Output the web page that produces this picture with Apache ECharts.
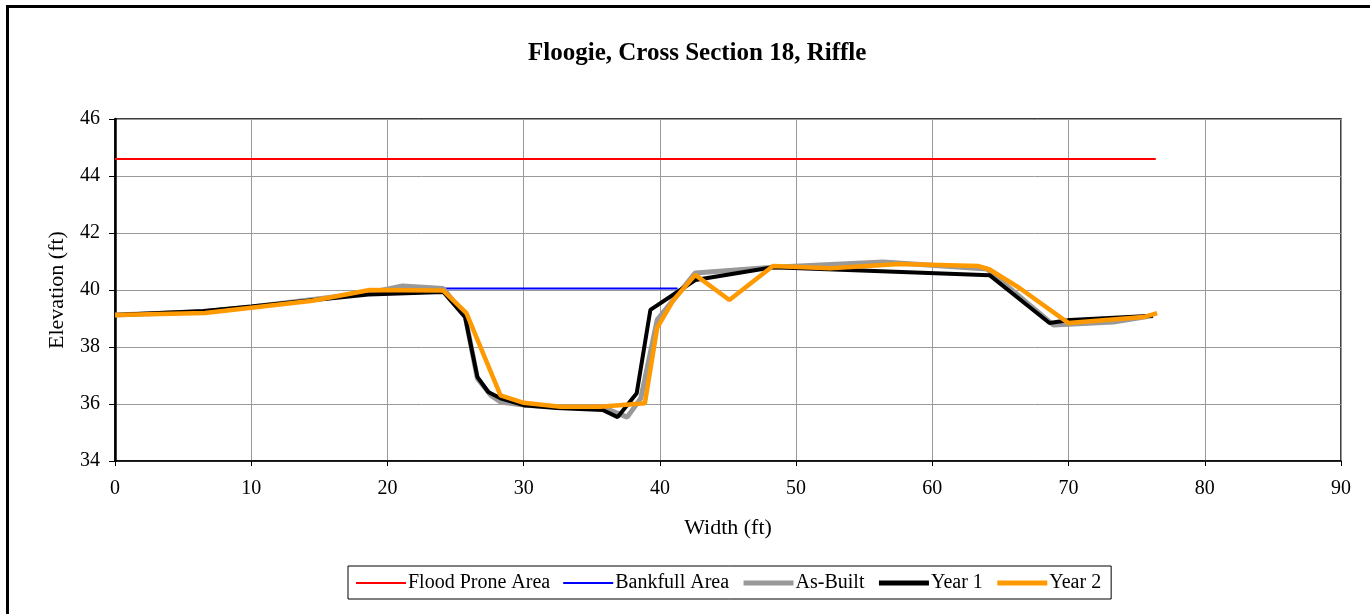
<!DOCTYPE html>
<html>
<head>
<meta charset="utf-8">
<script src="https://cdn.jsdelivr.net/npm/echarts@6/dist/echarts.min.js"></script>
<style>
  html, body { margin: 0; padding: 0; background: #fff; }
  #chart { width: 1370px; height: 614px; }
</style>
</head>
<body>
<div id="chart"></div>
<script>
// cross section survey
var floodX = [0, 76.4];
var floodY = [44.6, 44.6];
var bankX = [24.1, 41.3];
var bankY = [40.05, 40.05];

var asBuiltX = [0, 6.5, 10, 18.6, 21.1, 24.1, 25.7, 26.6, 27.6, 28.3, 30, 32.4, 35.8, 37.6, 38.6, 39.8, 42.6, 48.3, 56.4, 64, 68.9, 73.3, 76.2];
var asBuiltY = [39.12, 39.24, 39.4, 39.9, 40.14, 40.05, 39.1, 36.9, 36.3, 36.07, 35.96, 35.9, 35.88, 35.54, 36.2, 38.95, 40.6, 40.8, 40.98, 40.74, 38.77, 38.88, 39.1];

var year1X = [0, 6.5, 10, 18.6, 24.1, 25.7, 26.6, 27.4, 28.3, 30, 32.4, 35.8, 36.9, 38.3, 39.3, 42.6, 48.3, 64.2, 68.6, 70.1, 76.2];
var year1Y = [39.12, 39.26, 39.42, 39.84, 39.93, 39.05, 36.95, 36.42, 36.2, 35.96, 35.86, 35.79, 35.54, 36.38, 39.3, 40.35, 40.8, 40.52, 38.84, 38.95, 39.1];

var year2X = [0, 6.6, 10, 14.5, 18.7, 24.1, 25.8, 28.3, 30, 32.7, 35.6, 38.9, 39.8, 41, 42.6, 45.1, 48.3, 52.5, 57.6, 63.4, 64.2, 66.4, 70, 75.5, 76.5];
var year2Y = [39.12, 39.19, 39.38, 39.62, 40.0, 39.98, 39.19, 36.3, 36.04, 35.9, 35.9, 36.03, 38.67, 39.65, 40.53, 39.65, 40.84, 40.76, 40.91, 40.84, 40.72, 40.07, 38.84, 39.05, 39.19];

function pairs(xs, ys) {
  return xs.map(function (x, i) { return [x, ys[i]]; });
}

var font = '"Liberation Serif", "Times New Roman", serif';
var chart = echarts.init(document.getElementById('chart'));

function lineSeries(name, xs, ys, color, width, z) {
  return {
    name: name,
    type: 'line',
    data: pairs(xs, ys),
    symbol: 'none',
    smooth: false,
    z: z,
    itemStyle: { color: color },
    lineStyle: { color: color, width: width },
    emphasis: { disabled: true }
  };
}

function legendItem(name, width) {
  return { name: name, itemStyle: { opacity: 0 }, lineStyle: { width: width } };
}

var option = {
  animation: false,
  backgroundColor: '#fff',
  textStyle: { fontFamily: font },
  graphic: [
    {
      type: 'rect',
      shape: { x: 7.5, y: 6.5, width: 1380, height: 640 },
      style: { fill: 'none', stroke: '#000', lineWidth: 3 },
      silent: true
    }
  ],
  title: {
    text: 'Floogie, Cross Section 18, Riffle',
    left: 523,
    top: 36,
    textStyle: { fontFamily: font, fontSize: 25, fontWeight: 'bold', color: '#000' }
  },
  grid: {
    left: 115,
    right: 29,
    top: 119,
    bottom: 153,
    show: true,
    borderColor: '#000',
    borderWidth: 1.5,
    backgroundColor: '#fff'
  },
  legend: {
    left: 348,
    top: 566,
    padding: [7, 10, 6, 7],
    itemGap: 12,
    itemWidth: 50,
    itemHeight: 12,
    borderColor: '#000',
    borderWidth: 1,
    itemStyle: { opacity: 0 },
    textStyle: { fontFamily: font, fontSize: 20, color: '#000', padding: [0, 0, 0, -3] },
    data: [
      legendItem('Flood Prone Area', 2),
      legendItem('Bankfull Area', 2),
      legendItem('As-Built', 5),
      legendItem('Year 1', 5),
      legendItem('Year 2', 5)
    ]
  },
  xAxis: {
    type: 'value',
    min: 0,
    max: 90,
    interval: 10,
    name: 'Width (ft)',
    nameLocation: 'middle',
    nameGap: 56,
    nameTextStyle: { fontFamily: font, fontSize: 22, color: '#000' },
    axisLine: { lineStyle: { color: '#000', width: 1.5 } },
    axisTick: { show: true, length: 5, lineStyle: { color: '#000' } },
    axisLabel: { margin: 18, fontFamily: font, fontSize: 20, color: '#000' },
    splitLine: { show: true, lineStyle: { color: '#999', width: 1 } }
  },
  yAxis: {
    type: 'value',
    min: 34,
    max: 46,
    interval: 2,
    name: 'Elevation (ft)',
    nameLocation: 'middle',
    nameGap: 47,
    nameTextStyle: { fontFamily: font, fontSize: 22, color: '#000' },
    axisLine: { show: true, lineStyle: { color: '#000', width: 2.5 } },
    axisTick: { show: true, length: 6, lineStyle: { color: '#000' } },
    axisLabel: { margin: 15, fontFamily: font, fontSize: 20, color: '#000' },
    splitLine: { show: true, lineStyle: { color: '#999', width: 1 } }
  },
  series: [
    lineSeries('Flood Prone Area', floodX, floodY, '#ff0000', 2, 2),
    lineSeries('Bankfull Area', bankX, bankY, '#0000ff', 2, 2),
    lineSeries('As-Built', asBuiltX, asBuiltY, '#999999', 5, 3),
    lineSeries('Year 1', year1X, year1Y, '#000000', 4, 4),
    lineSeries('Year 2', year2X, year2Y, '#ff9900', 4.5, 5)
  ]
};

chart.setOption(option);
</script>
</body>
</html>
